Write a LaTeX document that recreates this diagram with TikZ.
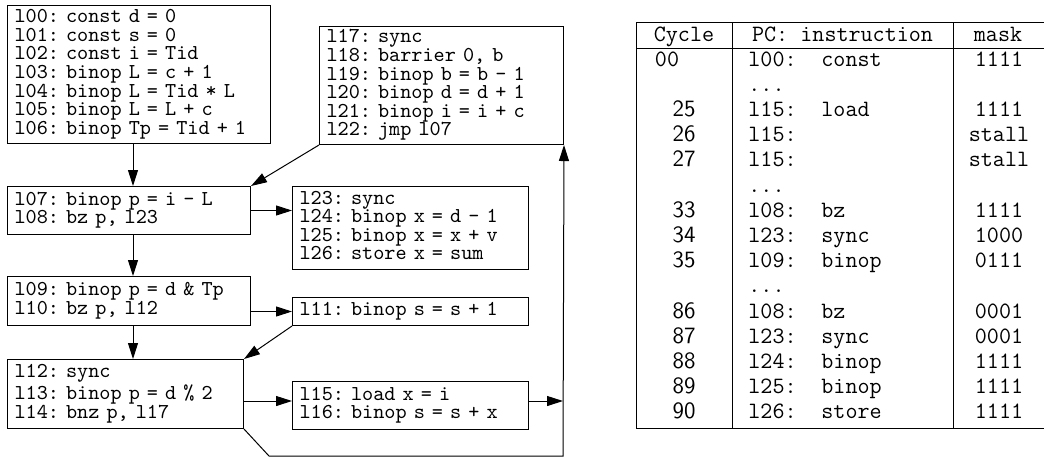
\documentclass[tikz,border=0pt]{standalone}
\usetikzlibrary{arrows.meta}
\newcommand\fixsp{\frenchspacing\spaceskip=0.525em plus 0pt minus 0pt\xspaceskip=0.525em plus 0pt minus 0pt\relax}
\begin{document}
\begin{tikzpicture}[x=0.5pt,y=-0.5pt,
  blk/.style={draw, line width=0.5pt, anchor=north west, align=left,
    font=\ttfamily\fontsize{10.6}{9}\selectfont\fixsp, inner xsep=3.5pt, inner ysep=0pt},
  arr/.style={line width=0.5pt, -{Triangle[length=8pt,width=5pt]}},
  tline/.style={line width=0.5pt},
  ttc/.style={font=\ttfamily\fontsize{11.7}{13}\selectfont\fixsp, inner sep=0pt, anchor=base},
  ttl/.style={font=\ttfamily\fontsize{11.7}{13}\selectfont\fixsp, inner sep=0pt, anchor=base west},
  sfc/.style={font=\sffamily\fontsize{11.7}{13}\selectfont, inner sep=0pt, anchor=base},
]
\useasboundingbox (0,0) rectangle (1044,457);

% ---------- flow graph ----------
\node[blk, text width=124.5pt, minimum height=69pt] (A) at (7,5) {\begin{tabular}{@{}l@{}}
l00: const d = 0\\
l01: const s = 0\\
l02: const i = Tid\\
l03: binop L = c + 1\\
l04: binop L = Tid * L\\
l05: binop L = L + c\\
l06: binop Tp = Tid + 1\end{tabular}};

\node[blk, text width=115pt, minimum height=59pt] (B) at (319,26) {\begin{tabular}{@{}l@{}}
l17: sync\\
l18: barrier 0, b\\
l19: binop b = b - 1\\
l20: binop d = d + 1\\
l21: binop i = i + c\\
l22: jmp l07\end{tabular}};

\node[blk, text width=114.5pt, minimum height=24pt] (C) at (7,186) {\begin{tabular}{@{}l@{}}
l07: binop p = i - L\\
l08: bz p, l23\end{tabular}};

\node[blk, text width=111pt, minimum height=41.5pt] (E) at (292,186) {\begin{tabular}{@{}l@{}}
l23: sync\\
l24: binop x = d - 1\\
l25: binop x = x + v\\
l26: store x = sum\end{tabular}};

\node[blk, text width=114.5pt, minimum height=24.5pt] (D) at (7,276) {\begin{tabular}{@{}l@{}}
l09: binop p = d \& Tp\\
l10: bz p, l12\end{tabular}};

\node[blk, text width=111pt, minimum height=14pt] (F) at (292,297) {\begin{tabular}{@{}l@{}}
l11: binop s = s + 1\end{tabular}};

\node[blk, text width=111pt, minimum height=34.5pt] (G) at (7,359) {\begin{tabular}{@{}l@{}}
l12: sync\\[1pt]
l13: binop p = d \% 2\\
l14: bnz p, l17\end{tabular}};

\node[blk, text width=111pt, minimum height=24pt] (H) at (292,381) {\begin{tabular}{@{}l@{}}
l15: load x = i\\
l16: binop s = s + x\end{tabular}};

\coordinate (spine) at (133,0);
\coordinate (gh) at (0,401);
\coordinate (rail) at (563,0);
\coordinate (c1) at (269,456);
\coordinate (c2) at (563,456);

\draw[arr] (A.south -| spine) -- (C.north -| spine);
\draw[arr] (C.south -| spine) -- (D.north -| spine);
\draw[arr] (D.south -| spine) -- (G.north -| spine);
\draw[arr] (B.south west) -- (C.north east);
\draw[arr] (C.east) -- (C.east -| E.west);
\draw[arr] (D.east |- F.west) -- (F.west);
\draw[arr] (F.south west) -- (G.north east);
\draw[arr] (G.east |- gh) -- (H.west |- gh);
\draw[arr] (H.east |- gh) -- (rail |- gh);
\draw[arr] (G.south east) -- (c1) -- (c2) -- (B.south east);

% ---------- table ----------
\draw[tline] (1046,22) -- (636,22) -- (636,428) -- (1046,428);
\draw[tline] (636,48) -- (1046,48);
\draw[tline] (732,22) -- (732,428);
\draw[tline] (953,22) -- (953,428);

\node[ttc] (hcyc) at (684,41) {Cycle};
\node[ttc] (hpc) at (842.5,41) {PC: instruction};
\node[ttc] (hmask) at (998,41) {mask};

\def\yy#1{66+25.2*#1}
% row 0
\node[ttc] (r0c) at (667,{\yy{0}}) {00};
\node[ttl] (r0p) at (748,{\yy{0}}) {l00:};
\node[ttl] (r0i) at (821,{\yy{0}}) {const};
\node[ttc] (r0m) at (999,{\yy{0}}) {1111};
% row 1 dots
\node[ttl] (r1p) at (748,{\yy{1}}) {...};
% row 2
\node[sfc] (r2c) at (684,{\yy{2}}) {25};
\node[ttl] (r2p) at (748,{\yy{2}}) {l15:};
\node[ttl] (r2i) at (821,{\yy{2}}) {load};
\node[ttc] (r2m) at (999,{\yy{2}}) {1111};
% row 3
\node[sfc] (r3c) at (684,{\yy{3}}) {26};
\node[ttl] (r3p) at (748,{\yy{3}}) {l15:};
\node[ttc] (r3m) at (999,{\yy{3}}) {stall};
% row 4
\node[sfc] (r4c) at (684,{\yy{4}}) {27};
\node[ttl] (r4p) at (748,{\yy{4}}) {l15:};
\node[ttc] (r4m) at (999,{\yy{4}}) {stall};
% row 5 dots
\node[ttl] (r5p) at (748,{\yy{5}}) {...};
% row 6
\node[sfc] (r6c) at (684,{\yy{6}}) {33};
\node[ttl] (r6p) at (748,{\yy{6}}) {l08:};
\node[ttl] (r6i) at (821,{\yy{6}}) {bz};
\node[ttc] (r6m) at (999,{\yy{6}}) {1111};
% row 7
\node[sfc] (r7c) at (684,{\yy{7}}) {34};
\node[ttl] (r7p) at (748,{\yy{7}}) {l23:};
\node[ttl] (r7i) at (821,{\yy{7}}) {sync};
\node[ttc] (r7m) at (999,{\yy{7}}) {1000};
% row 8
\node[sfc] (r8c) at (684,{\yy{8}}) {35};
\node[ttl] (r8p) at (748,{\yy{8}}) {l09:};
\node[ttl] (r8i) at (821,{\yy{8}}) {binop};
\node[ttc] (r8m) at (999,{\yy{8}}) {0111};
% row 9 dots
\node[ttl] (r9p) at (748,{\yy{9}}) {...};
% row 10
\node[sfc] (r10c) at (684,{\yy{10}}) {86};
\node[ttl] (r10p) at (748,{\yy{10}}) {l08:};
\node[ttl] (r10i) at (821,{\yy{10}}) {bz};
\node[ttc] (r10m) at (999,{\yy{10}}) {0001};
% row 11
\node[sfc] (r11c) at (684,{\yy{11}}) {87};
\node[ttl] (r11p) at (748,{\yy{11}}) {l23:};
\node[ttl] (r11i) at (821,{\yy{11}}) {sync};
\node[ttc] (r11m) at (999,{\yy{11}}) {0001};
% row 12
\node[sfc] (r12c) at (684,{\yy{12}}) {88};
\node[ttl] (r12p) at (748,{\yy{12}}) {l24:};
\node[ttl] (r12i) at (821,{\yy{12}}) {binop};
\node[ttc] (r12m) at (999,{\yy{12}}) {1111};
% row 13
\node[sfc] (r13c) at (684,{\yy{13}}) {89};
\node[ttl] (r13p) at (748,{\yy{13}}) {l25:};
\node[ttl] (r13i) at (821,{\yy{13}}) {binop};
\node[ttc] (r13m) at (999,{\yy{13}}) {1111};
% row 14
\node[sfc] (r14c) at (684,{\yy{14}}) {90};
\node[ttl] (r14p) at (748,{\yy{14}}) {l26:};
\node[ttl] (r14i) at (821,{\yy{14}}) {store};
\node[ttc] (r14m) at (999,{\yy{14}}) {1111};
\end{tikzpicture}
\end{document}
